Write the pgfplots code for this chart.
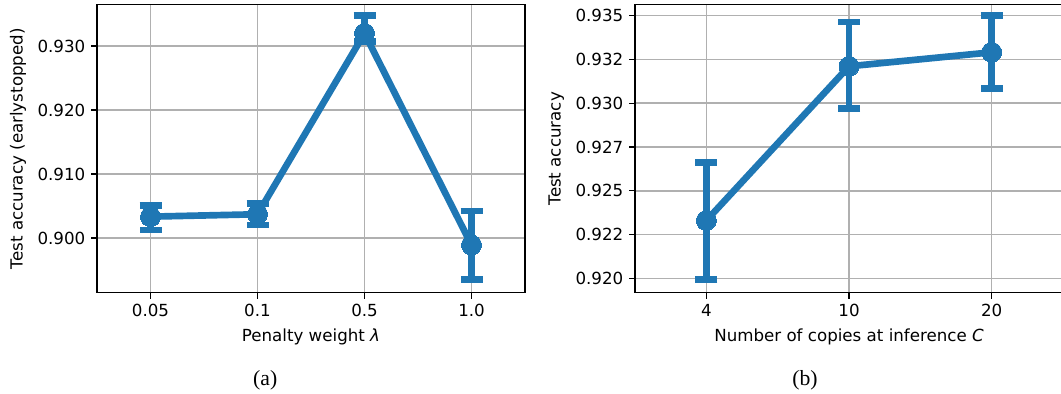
\documentclass[border=0pt]{standalone}
\usepackage{fontspec}
\setmainfont{DejaVu Sans}
\newfontfamily\capfont{Liberation Serif}
\usepackage{pgfplots}
\pgfplotsset{compat=1.18}
\definecolor{tabblue}{HTML}{1F77B4}
\definecolor{gridgray}{RGB}{176,176,176}
\pgfplotsset{
  myaxis/.style={
    scale only axis,
    width=256.8pt, height=172.8pt,
    axis line style={line width=0.9pt, black},
    xmajorgrids, ymajorgrids,
    major grid style={line width=0.9pt, gridgray},
    tick align=outside,
    major tick length=3.5pt,
    every tick/.style={black, line width=0.8pt},
    xtick pos=bottom, ytick pos=left,
    /pgf/number format/assume math mode=true,
    tick label style={font=\fontsize{10}{12}\selectfont},
    label style={font=\fontsize{10}{12}\selectfont},
    scaled y ticks=false,
    clip=false,
    xmin=-0.5,
  },
  myplot/.style={
    tabblue, line width=4pt, mark=*, mark size=6pt,
    mark options={solid, fill=tabblue, draw=tabblue, line width=0pt},
    error bars/.cd, y dir=both, y explicit,
    error bar style={line width=4pt, tabblue},
    error mark options={rotate=90, mark size=6.6pt, line width=4pt, tabblue},
  },
}
\begin{document}
\begin{tikzpicture}
\useasboundingbox (0,0) rectangle (636.6pt,235.8pt);
\begin{axis}[myaxis,
  at={(58.2pt,60.2pt)}, anchor=south west,
  xmax=3.5,
  ymin=0.89145, ymax=0.93645,
  xtick={0,1,2,3}, xticklabels={0.05,0.1,0.5,1.0},
  ytick={0.90,0.91,0.92,0.93},
  yticklabel style={/pgf/number format/.cd, fixed, fixed zerofill, precision=3},
  xlabel={Penalty weight \textit{λ}},
  ylabel={Test accuracy (earlystopped)},
]
\addplot+[myplot] coordinates {
  (0,0.90333) += (0,0.00177) -= (0,0.0021)
  (1,0.9037)  += (0,0.0017)  -= (0,0.0017)
  (2,0.93197) += (0,0.00276) -= (0,0.0013)
  (3,0.8989)  += (0,0.0053)  -= (0,0.0054)
};
\node[font=\capfont\fontsize{13}{15}\selectfont] at (rel axis cs:0.393,-0.305) {(a)};
\end{axis}
\begin{axis}[myaxis,
  at={(381pt,60.2pt)}, anchor=south west,
  xmax=2.5,
  ymin=0.91918, ymax=0.93563,
  xtick={0,1,2}, xticklabels={4,10,20},
  ytick={0.92,0.9225,0.925,0.9275,0.93,0.9325,0.935},
  yticklabels={0.920,0.922,0.925,0.927,0.930,0.932,0.935},
  xlabel={Number of copies at inference \textit{C}},
  ylabel={Test accuracy},
]
\addplot+[myplot] coordinates {
  (0,0.92330) += (0,0.00331) -= (0,0.00336)
  (1,0.93211) += (0,0.00253) -= (0,0.0024)
  (2,0.93291) += (0,0.00211) -= (0,0.00208)
};
\node[font=\capfont\fontsize{13}{15}\selectfont] at (rel axis cs:0.397,-0.305) {(b)};
\end{axis}
\end{tikzpicture}
\end{document}
